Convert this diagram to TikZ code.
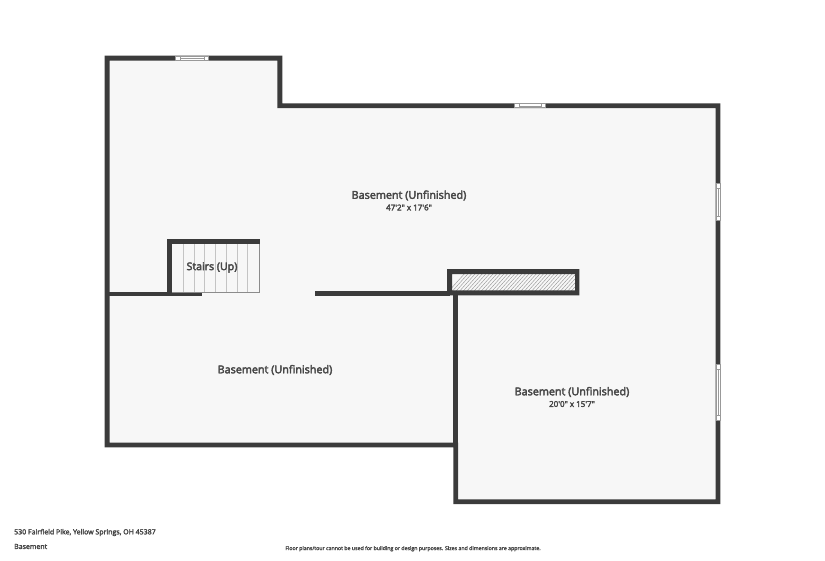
\documentclass[tikz,border=0pt]{standalone}
\usepackage{fontspec}
\newfontfamily\lab[FakeBold=3.5]{Open Sans}
\newfontfamily\labsmall[FakeBold=3]{Open Sans}
\definecolor{wallc}{HTML}{3B3B3B}
\definecolor{floorc}{HTML}{F7F7F7}
\definecolor{textc}{HTML}{484848}
\definecolor{tread}{HTML}{C4C4C4}
\definecolor{edgec}{HTML}{8C8C8C}
\tikzset{
  wall/.style={fill=wallc,draw=none},
  floorarea/.style={fill=floorc,draw=none},
  roomlabel/.style={font=\lab\fontsize{10.8}{12}\selectfont,text=textc,inner sep=0pt},
  dimlabel/.style={font=\lab\fontsize{8}{9}\selectfont,text=textc,inner sep=0pt},
  foot/.style={font=\labsmall\fontsize{7}{8}\selectfont,text=textc,inner sep=0pt,anchor=west},
  note/.style={font=\labsmall\fontsize{5.25}{6}\selectfont,text=textc,inner sep=0pt},
  winframe/.style={fill=white,draw=none},
  winline/.style={draw=black!40,line width=0.7pt},
  treadline/.style={draw=tread,line width=0.7pt},
  hatchline/.style={draw=black!40,line width=0.45pt}
}
\begin{document}
\begin{tikzpicture}[x=1pt,y=-1pt]
\useasboundingbox (0,0) rectangle (825,560);
% floor
\path[floorarea] (107,58) -- (280,58) -- (280,105) -- (718,105) -- (718,501.5) -- (456,501.5) -- (456,445) -- (107,445) -- cycle;
% outer walls
\path[wall,even odd rule] (104.5,55.7) -- (282.3,55.7) -- (282.3,103.3) -- (720.3,103.3) -- (720.3,504) -- (453.3,504) -- (453.3,447.3) -- (104.5,447.3) -- cycle
  (109.5,60.7) -- (109.5,442.7) -- (458,442.7) -- (458,499.3) -- (715.7,499.3) -- (715.7,108) -- (277.3,108) -- (277.3,60.7) -- cycle;
% inner walls
\path[wall] (109,291.7) rectangle (202.3,296.3);
\path[wall] (315,291) rectangle (450,295.7);
\path[wall] (453.3,291) rectangle (458,445);
% stairs
\foreach \tx in {183.3,194,204.7,215.3,226.3,237,247.7}
  \draw[treadline] (\tx,243) -- (\tx,292);
\draw[draw=edgec,line width=0.8pt] (172,292) -- (259,292) -- (259,243);
\path[wall] (166.7,238.7) rectangle (259.5,243.7);
\path[wall] (166.7,238.7) rectangle (172,296);
% chimney
\begin{scope}
\clip (452,274) rectangle (575,290.3);
\foreach \hx in {0,1,...,50}
  \draw[hatchline] ({448+\hx*3.6},292) -- ({448+\hx*3.6+18},272);
\end{scope}
\path[wall,even odd rule] (447,269) rectangle (579.3,295.3) (452,274) rectangle (575,290.3);
% windows
\path[winframe] (175,55.7) rectangle (209,60.7);
\draw[winline,line width=0.5pt] (175.5,56) rectangle (208.5,60.5);
\draw[winline] (180,56) rectangle (204,60.5);
\draw[winline,line width=0.4pt] (180,58.2) -- (204,58.2);
\path[winframe] (514,103.3) rectangle (546,108);
\draw[winline,line width=0.5pt] (514.5,103.6) rectangle (545.5,107.7);
\draw[winline] (519,103.6) rectangle (541,107.7);
\draw[winline,line width=0.4pt] (519,105.7) -- (541,105.7);
\path[winframe] (715.7,183.3) rectangle (720.3,221);
\draw[winline,line width=0.5pt] (716,183.6) rectangle (720,220.7);
\draw[winline] (716,188) rectangle (720,216);
\draw[winline,line width=0.4pt] (718,188) -- (718,216);
\path[winframe] (715.7,364.3) rectangle (720.3,420.7);
\draw[winline,line width=0.5pt] (716,364.6) rectangle (720,420.4);
\draw[winline] (716,369) rectangle (720,415.5);
\draw[winline,line width=0.4pt] (718,369) -- (718,415.5);
% labels
\node[roomlabel] (r1) at (409,195.5) {Basement (Unfinished)};
\node[dimlabel] (d1) at (409,207.5) {47'2" x 17'6"};
\node[roomlabel] (r2) at (275,370) {Basement (Unfinished)};
\node[roomlabel] (r3) at (572,392) {Basement (Unfinished)};
\node[dimlabel] (d3) at (572,404) {20'0" x 15'7"};
\node[font=\lab\fontsize{10.6}{11}\selectfont,text=textc,inner sep=0pt] (s) at (212,267.5) {Stairs (Up)};
\node[foot] (f1) at (14,532.5) {530 Fairfield Pike, Yellow Springs, OH 45387};
\node[foot] (f2) at (14,546.5) {Basement};
\node[note] (f3) at (413,548.7) {Floor plans/tour cannot be used for building or design purposes. Sizes and dimensions are approximate.};
\end{tikzpicture}
\end{document}
